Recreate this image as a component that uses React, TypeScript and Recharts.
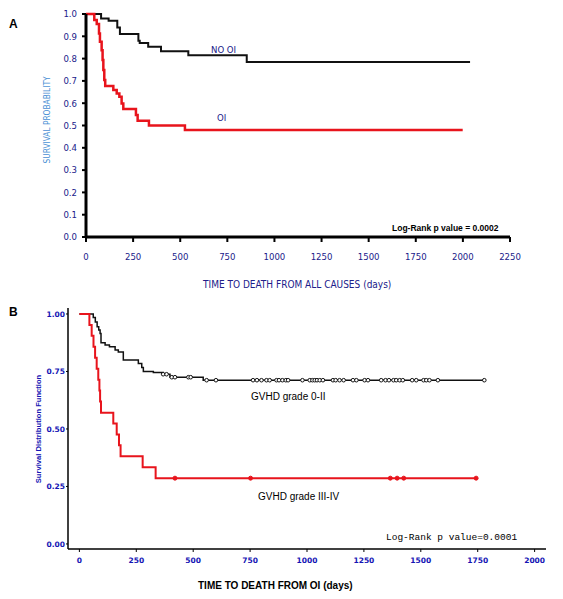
import { LineChart, Line, XAxis, YAxis } from 'recharts';

// Panel A: survival by opportunistic infection
const aTicksX = [0, 250, 500, 750, 1000, 1250, 1500, 1750, 2000, 2250];
const aTicksY = [0, 0.1, 0.2, 0.3, 0.4, 0.5, 0.6, 0.7, 0.8, 0.9, 1.0];
const noOiTimes = [0, 80, 120, 166, 180, 278, 285, 330, 398, 543, 853, 2038];
const noOiSurv = [1.0, 0.98, 0.97, 0.94, 0.91, 0.88, 0.87, 0.853, 0.833, 0.815, 0.785, 0.785];
const oiTimes = [0, 44, 57, 69, 74, 83, 88, 92, 97, 102, 145, 163, 177, 189, 198, 265, 274, 334, 525, 1999];
const oiSurv = [1.0, 0.973, 0.955, 0.913, 0.876, 0.838, 0.794, 0.749, 0.704, 0.677, 0.659, 0.644, 0.629, 0.599, 0.574, 0.547, 0.521, 0.5, 0.48, 0.48];

// Panel B: survival by GVHD grade
const bTicksX = [0, 250, 500, 750, 1000, 1250, 1500, 1750, 2000];
const bTicksY = [0, 0.25, 0.5, 0.75, 1.0];
const lowTimes = [0, 61, 70, 78, 85, 91, 95, 113, 132, 157, 171, 193, 259, 274, 281, 325, 368, 398, 544, 1782];
const lowSurv = [1.0, 0.985, 0.965, 0.945, 0.93, 0.915, 0.875, 0.865, 0.858, 0.843, 0.835, 0.8, 0.785, 0.767, 0.75, 0.745, 0.738, 0.725, 0.712, 0.712];
const lowCensored = [368, 383, 406, 420, 479, 489, 559, 600, 763, 780, 800, 822, 836, 866, 877, 892, 907, 917, 980, 1012, 1024, 1034, 1044, 1056, 1070, 1114, 1126, 1143, 1161, 1202, 1217, 1253, 1268, 1326, 1345, 1360, 1380, 1392, 1407, 1421, 1462, 1480, 1512, 1524, 1538, 1575, 1779];
const highTimes = [0, 44, 54, 62, 69, 76, 83, 88, 91, 95, 149, 164, 174, 181, 278, 335, 1743];
const highSurv = [1.0, 0.952, 0.905, 0.857, 0.81, 0.762, 0.714, 0.667, 0.619, 0.571, 0.524, 0.476, 0.429, 0.381, 0.333, 0.286, 0.286];
const highCensored = [420, 752, 1366, 1396, 1425, 1743];

const toPoints = (times: number[], surv: number[]) => times.map((t, i) => ({ t, s: surv[i] }));

const survAt = (times: number[], surv: number[], t: number) => {
  let s = surv[0];
  times.forEach((tt, i) => { if (tt <= t) s = surv[i]; });
  return s;
};

const censorPoints = (times: number[], surv: number[], cens: number[]) =>
  cens.map((t) => ({ t, s: survAt(times, surv, t) }));

const navy = '#20208a';
const blue = '#1414b4';
const red = '#e8141c';
const tahoma = 'Tahoma, "DejaVu Sans Condensed", "DejaVu Sans", sans-serif';

const txt = (style: React.CSSProperties): React.CSSProperties => ({
  position: 'absolute',
  whiteSpace: 'nowrap',
  lineHeight: 1,
  ...style,
});

export default function App() {
  return (
    <div style={{ position: 'absolute', left: 0, top: 0, width: 563, height: 599, background: '#fff', overflow: 'hidden' }}>
      {/* ---- A ---- */}
      <div style={{ position: 'absolute', left: 0, top: 0 }}>
        <LineChart width={563} height={300} margin={{ top: 14, right: 53, bottom: 33, left: 0 }}>
          <XAxis
            type="number"
            dataKey="t"
            domain={[0, 2250]}
            ticks={aTicksX}
            interval={0}
            height={30}
            axisLine={{ stroke: '#000', strokeWidth: 3 }}
            tickLine={{ stroke: '#000', strokeWidth: 2 }}
            tickSize={5}
            tickMargin={11}
            tick={{ fill: navy, fontSize: 9.5, fontFamily: tahoma }}
          />
          <YAxis
            type="number"
            domain={[0, 1]}
            ticks={aTicksY}
            interval={0}
            width={86}
            axisLine={{ stroke: '#000', strokeWidth: 3 }}
            tickLine={{ stroke: '#000', strokeWidth: 2 }}
            tickSize={4}
            tickMargin={5}
            tickFormatter={(v: number) => v.toFixed(1)}
            tick={{ fill: navy, fontSize: 9.5, fontFamily: tahoma }}
          />
          <Line data={toPoints(noOiTimes, noOiSurv)} dataKey="s" type="stepAfter" stroke="#111" strokeWidth={2} dot={false} activeDot={false} isAnimationActive={false} />
          <Line data={toPoints(oiTimes, oiSurv)} dataKey="s" type="stepAfter" stroke={red} strokeWidth={2.5} dot={false} activeDot={false} isAnimationActive={false} />
        </LineChart>
      </div>
      <div style={txt({ left: 9, top: 18, fontFamily: 'Arial, "Liberation Sans", sans-serif', fontWeight: 'bold', fontSize: 12, color: '#000' })}>A</div>
      <div style={txt({ left: 211, top: 45, fontFamily: tahoma, fontSize: 9.5, color: navy })}>NO OI</div>
      <div style={txt({ left: 217, top: 113, fontFamily: tahoma, fontSize: 9.5, color: navy })}>OI</div>
      <div style={txt({ left: 392, top: 224, fontFamily: 'Arial, "Liberation Sans", sans-serif', fontWeight: 'bold', fontSize: 8.5, color: '#000' })}>Log-Rank p value = 0.0002</div>
      <div style={txt({ left: 203, top: 280, fontFamily: tahoma, fontSize: 10, color: navy })}>TIME TO DEATH FROM ALL CAUSES (days)</div>
      <div style={txt({ left: 47, top: 120, transform: 'translate(-50%, -50%) rotate(-90deg)', fontFamily: tahoma, fontSize: 8.3, color: '#4a8fd4' })}>SURVIVAL PROBABILITY</div>

      {/* ---- B ---- */}
      <div style={{ position: 'absolute', left: 0, top: 300 }}>
        <LineChart width={563} height={299} margin={{ top: 8, right: 17, bottom: 25, left: 0 }}>
          <XAxis
            type="number"
            dataKey="t"
            domain={[-50, 2050]}
            ticks={bTicksX}
            interval={0}
            height={25}
            axisLine={{ stroke: '#000', strokeWidth: 1.5 }}
            tickLine={{ stroke: '#000', strokeWidth: 1 }}
            tickSize={3}
            tickMargin={6}
            tick={{ fill: blue, fontSize: 7.5, fontWeight: 'bold', fontFamily: 'Verdana, "DejaVu Sans", sans-serif' }}
          />
          <YAxis
            type="number"
            domain={[-0.022, 1.026]}
            ticks={bTicksY}
            interval={0}
            width={68}
            axisLine={{ stroke: '#000', strokeWidth: 1.5 }}
            tickLine={{ stroke: '#000', strokeWidth: 1 }}
            tickSize={2}
            tickMargin={1}
            tickFormatter={(v: number) => v.toFixed(2)}
            tick={{ fill: blue, fontSize: 7.5, fontWeight: 'bold', fontFamily: 'Verdana, "DejaVu Sans", sans-serif' }}
          />
          <Line data={toPoints(lowTimes, lowSurv)} dataKey="s" type="stepAfter" stroke="#111" strokeWidth={1.5} dot={false} activeDot={false} isAnimationActive={false} />
          <Line data={toPoints(highTimes, highSurv)} dataKey="s" type="stepAfter" stroke={red} strokeWidth={2} dot={false} activeDot={false} isAnimationActive={false} />
          <Line data={censorPoints(lowTimes, lowSurv, lowCensored)} dataKey="s" stroke="none" dot={{ r: 1.8, stroke: '#111', strokeWidth: 1, fill: '#fff' }} activeDot={false} isAnimationActive={false} />
          <Line data={censorPoints(highTimes, highSurv, highCensored)} dataKey="s" stroke="none" dot={{ r: 2, stroke: red, strokeWidth: 1, fill: red }} activeDot={false} isAnimationActive={false} />
        </LineChart>
      </div>
      <div style={txt({ left: 9, top: 306, fontFamily: 'Arial, "Liberation Sans", sans-serif', fontWeight: 'bold', fontSize: 12, color: '#000' })}>B</div>
      <div style={txt({ left: 251, top: 392, fontFamily: 'Arial, "Liberation Sans", sans-serif', fontSize: 10, color: '#000' })}>GVHD grade 0-II</div>
      <div style={txt({ left: 258, top: 492, fontFamily: 'Arial, "Liberation Sans", sans-serif', fontSize: 10, color: '#000' })}>GVHD grade III-IV</div>
      <div style={txt({ left: 386, top: 533, fontFamily: '"Courier New", "Liberation Mono", monospace', fontSize: 9.5, color: '#000' })}>Log-Rank p value=0.0001</div>
      <div style={txt({ left: 198, top: 581, fontFamily: 'Arial, "Liberation Sans", sans-serif', fontWeight: 'bold', fontSize: 10, color: '#000' })}>TIME TO DEATH FROM OI (days)</div>
      <div style={txt({ left: 39, top: 429, transform: 'translate(-50%, -50%) rotate(-90deg)', fontFamily: 'Arial, "Liberation Sans", sans-serif', fontWeight: 'bold', fontSize: 7.6, color: blue })}>Survival Distribution Function</div>
    </div>
  );
}
